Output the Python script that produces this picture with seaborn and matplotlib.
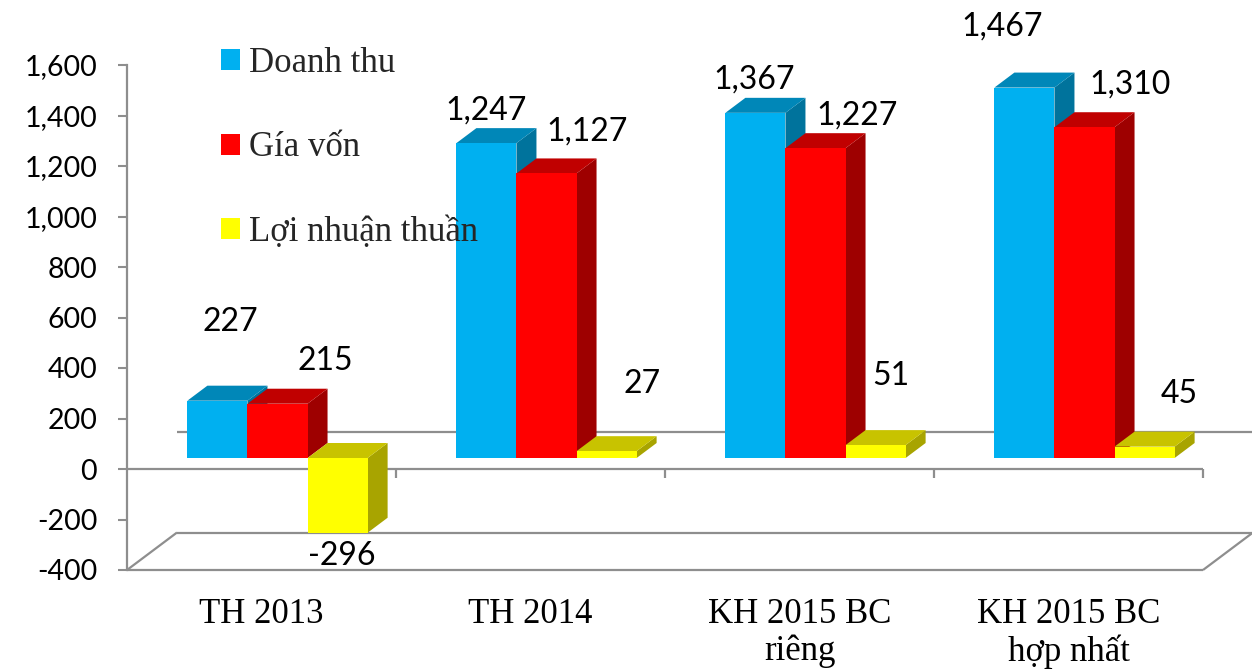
import numpy as np
import pandas as pd
import matplotlib
matplotlib.use("Agg")
import matplotlib.pyplot as plt
import seaborn as sns
from matplotlib.transforms import ScaledTranslation
from matplotlib.patches import Polygon
from matplotlib.ticker import FuncFormatter

# ---------------- data ----------------
categories = ["TH 2013", "TH 2014", "KH 2015 BC\nriêng", "KH 2015 BC\nhợp nhất"]
series = ["Doanh thu", "Gía vốn", "Lợi nhuận thuần"]
doanh_thu = [227, 1247, 1367, 1467]
gia_von = [215, 1127, 1227, 1310]
loi_nhuan = [-296, 27, 51, 45]
y_ticks = [-400, -200, 0, 200, 400, 600, 800, 1000, 1200, 1400, 1600]

# ---------------- styles ----------------
front_colors = ["#00B0F0", "#FF0000", "#FFFF00"]
top_colors = ["#0087B8", "#C00000", "#C8C300"]
side_colors = ["#00739C", "#9E0000", "#A8A400"]
# label offsets in pixels (right, up) from bar front top centre
label_offsets = [
    [(13, 79), (0, 33), (-1, 33), (-22, 61)],
    [(48, 43), (41, 42), (42, 33), (46, 43)],
    [(4, -23), (35, 67), (15, 69), (35, 53)],
]
line_color = "#8E8E8E"

sns.set_theme(style="white")
plt.rcParams["font.family"] = ["Lato", "DejaVu Sans"]
serif = ["Liberation Serif", "DejaVu Serif"]

W, H, DPI = 1252, 671, 100
fig = plt.figure(figsize=(W / DPI, H / DPI), dpi=DPI)
fig.patch.set_facecolor("white")
ax = fig.add_axes([127 / W, 101 / H, 1076 / W, 505 / H])
ax.set_facecolor("white")

values = [doanh_thu, gia_von, loi_nhuan]
rows = []
for s, vals in zip(series, values):
    for c, v in zip(categories, vals):
        rows.append((c, s, v))
df = pd.DataFrame(rows, columns=["category", "series", "value"])

sns.barplot(data=df, x="category", y="value", hue="series", order=categories,
            hue_order=series, palette=front_colors, saturation=1, width=0.67,
            errorbar=None, linewidth=0, edgecolor="none", ax=ax)

ax.set_xlim(-0.5, 3.5)
ax.set_ylim(y_ticks[0], y_ticks[-1])
ax.set_xlabel("")
ax.set_ylabel("")

# pixel -> data conversion
p0 = ax.transData.transform((0, 0))
p1 = ax.transData.transform((1, 1))
ppx, ppy = p1[0] - p0[0], p1[1] - p0[1]

bar_tr = ax.transData + ScaledTranslation(16 / DPI, 11 / DPI, fig.dpi_scale_trans)
back_tr = ax.transData + ScaledTranslation(50 / DPI, 37.5 / DPI, fig.dpi_scale_trans)
ddx, ddy = 20 / ppx, 15 / ppy

# collect bars
bars = []
for si, cont in enumerate(ax.containers):
    for ci, rect in enumerate(cont.patches):
        bars.append((rect.get_x(), si, ci, rect))
bars.sort(key=lambda b: b[0])

for k, (_, si, ci, rect) in enumerate(bars):
    x0 = rect.get_x()
    x1 = x0 + rect.get_width()
    y0 = rect.get_y()
    y1 = y0 + rect.get_height()
    yb, yt = min(y0, y1), max(y0, y1)
    rect.set_transform(bar_tr)
    rect.set_zorder(10 + 3 * k + 2)
    rect.set_clip_on(False)
    side = Polygon([(x1, yb), (x1, yt), (x1 + ddx, yt + ddy), (x1 + ddx, yb + ddy)],
                   closed=True, facecolor=side_colors[si], edgecolor="none",
                   transform=bar_tr, zorder=10 + 3 * k, clip_on=False)
    top = Polygon([(x0, yt), (x1, yt), (x1 + ddx, yt + ddy), (x0 + ddx, yt + ddy)],
                  closed=True, facecolor=top_colors[si], edgecolor="none",
                  transform=bar_tr, zorder=10 + 3 * k + 1, clip_on=False)
    ax.add_patch(side)
    ax.add_patch(top)
    v = values[si][ci]
    anchor_y = yt if v >= 0 else yb
    dx, dy = label_offsets[si][ci]
    ax.annotate(f"{v:,}", xy=((x0 + x1) / 2, anchor_y), xycoords=bar_tr,
                xytext=(dx, dy), textcoords="offset pixels", ha="center",
                va="center", fontsize=23, color="black", zorder=100,
                annotation_clip=False)

# floor / zero planes
xl, xr = ax.get_xlim()
ymin = ax.get_ylim()[0]
lk = dict(color=line_color, lw=1.6, clip_on=False, zorder=2, solid_capstyle="butt")
ax.plot([xl, xr], [0, 0], **lk)
ax.plot([xl, xr], [0, 0], transform=back_tr, **lk)
ax.plot([xl, xr], [ymin, ymin], **lk)
ax.plot([xl, xr], [ymin, ymin], transform=back_tr, **lk)
ddx_f, ddy_f = 50 / ppx, 37.5 / ppy
for xe in (xl, xr):
    ax.plot([xe, xe + ddx_f], [ymin, ymin + ddy_f], **lk)
for xb in np.arange(xl + 1, xr + 0.01, 1.0):
    ax.plot([xb, xb], [0, -9 / ppy], **lk)

# axes styling
for s in ["top", "right", "bottom"]:
    ax.spines[s].set_visible(False)
ax.spines["left"].set_color(line_color)
ax.spines["left"].set_linewidth(1.6)
ax.set_yticks(y_ticks)
ax.yaxis.set_major_formatter(FuncFormatter(lambda v, p: f"{v:,.0f}"))
ax.tick_params(axis="y", left=True, length=6.5, width=1.5, color=line_color,
               pad=15, labelsize=20.5, labelcolor="black")
ax.tick_params(axis="x", bottom=False, length=0, pad=20, labelsize=25,
               labelcolor="black")
for t in ax.get_xticklabels():
    t.set_family(serif)
    t.set_linespacing(1.15)
ax.grid(False)

# legend
leg = ax.get_legend()
handles = leg.legend_handles
labels = [t.get_text() for t in leg.get_texts()]
leg.remove()
new_leg = ax.legend(handles, labels, loc="upper left",
                    bbox_to_anchor=(221 / W, 1 - 47 / H), bbox_transform=fig.transFigure,
                    frameon=False, prop={"family": serif, "size": 25},
                    handlelength=0.55, handleheight=0.55, handletextpad=0.25,
                    labelspacing=1.48, borderpad=0, borderaxespad=0)
new_leg.set_zorder(300)

fig.savefig("out.png", dpi=DPI, facecolor="white")
